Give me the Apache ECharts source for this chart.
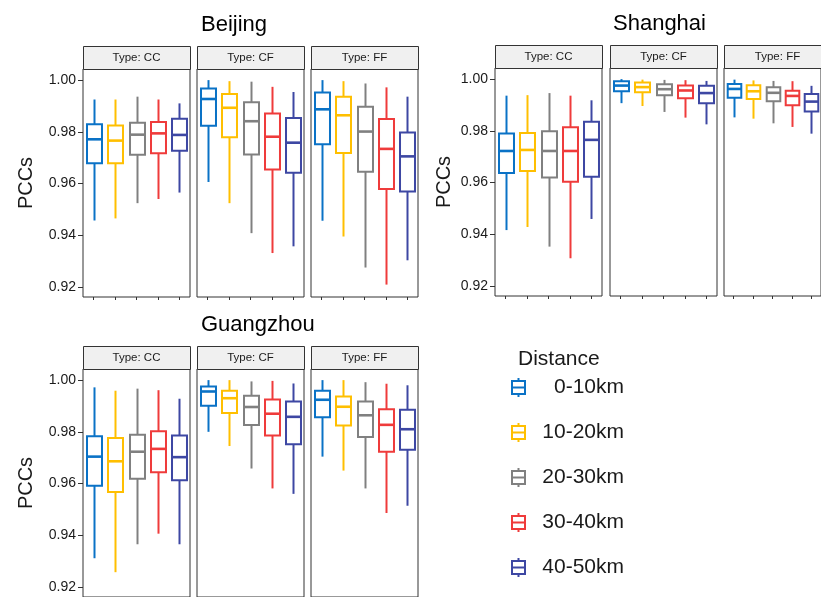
<!DOCTYPE html>
<html>
<head>
<meta charset="utf-8">
<script src="https://cdn.jsdelivr.net/npm/echarts@6/dist/echarts.min.js"></script>
<style>
  html, body { margin: 0; padding: 0; background: #fff; }
  #chart { width: 821px; height: 597px; }
</style>
</head>
<body>
<div id="chart"></div>
<script>
// Categories and labels
const distances = ['0-10km', '10-20km', '20-30km', '30-40km', '40-50km'];
const types = ['CC', 'CF', 'FF'];
const cities = ['Beijing', 'Shanghai', 'Guangzhou'];
const yTicks = [0.92, 0.94, 0.96, 0.98, 1.00];

// Box statistics per distance: [min, Q1, median, Q3, max]
const beijingCC = [
  [0.9457, 0.9678, 0.9771, 0.9829, 0.9925],
  [0.9465, 0.9678, 0.9766, 0.9824, 0.9925],
  [0.9524, 0.9711, 0.9789, 0.9835, 0.9936],
  [0.9540, 0.9717, 0.9794, 0.9838, 0.9925],
  [0.9565, 0.9727, 0.9788, 0.9851, 0.9910]
];
const beijingCF = [
  [0.9606, 0.9823, 0.9927, 0.9968, 1.0000],
  [0.9524, 0.9779, 0.9893, 0.9946, 0.9996],
  [0.9408, 0.9712, 0.9841, 0.9914, 0.9994],
  [0.9331, 0.9654, 0.9781, 0.9871, 0.9974],
  [0.9357, 0.9642, 0.9758, 0.9853, 0.9954]
];
const beijingFF = [
  [0.9456, 0.9752, 0.9887, 0.9952, 1.0000],
  [0.9395, 0.9718, 0.9864, 0.9936, 0.9996],
  [0.9275, 0.9646, 0.9801, 0.9897, 0.9987],
  [0.9209, 0.9579, 0.9734, 0.9850, 0.9972],
  [0.9303, 0.9569, 0.9705, 0.9797, 0.9936]
];
const shanghaiCC = [
  [0.9416, 0.9637, 0.9722, 0.9790, 0.9936],
  [0.9428, 0.9645, 0.9726, 0.9792, 0.9938],
  [0.9352, 0.9619, 0.9722, 0.9798, 0.9946],
  [0.9307, 0.9603, 0.9722, 0.9814, 0.9936],
  [0.9459, 0.9622, 0.9765, 0.9835, 0.9918]
];
const shanghaiCF = [
  [0.9907, 0.9953, 0.9975, 0.9992, 1.0000],
  [0.9896, 0.9949, 0.9969, 0.9987, 0.9998],
  [0.9873, 0.9938, 0.9961, 0.9980, 0.9997],
  [0.9851, 0.9926, 0.9956, 0.9975, 0.9996],
  [0.9825, 0.9907, 0.9946, 0.9974, 0.9993]
];
const shanghaiFF = [
  [0.9852, 0.9928, 0.9962, 0.9981, 0.9998],
  [0.9847, 0.9923, 0.9953, 0.9976, 0.9995],
  [0.9829, 0.9914, 0.9947, 0.9969, 0.9993],
  [0.9815, 0.9899, 0.9935, 0.9955, 0.9992],
  [0.9789, 0.9875, 0.9913, 0.9942, 0.9974]
];
const guangzhouCC = [
  [0.9311, 0.9591, 0.9704, 0.9783, 0.9972],
  [0.9257, 0.9567, 0.9686, 0.9776, 0.9959],
  [0.9365, 0.9618, 0.9723, 0.9789, 0.9967],
  [0.9406, 0.9644, 0.9734, 0.9802, 0.9961],
  [0.9365, 0.9613, 0.9702, 0.9786, 0.9928]
];
const guangzhouCF = [
  [0.9800, 0.9901, 0.9956, 0.9975, 1.0000],
  [0.9745, 0.9873, 0.9930, 0.9959, 1.0000],
  [0.9658, 0.9826, 0.9896, 0.9940, 0.9995],
  [0.9581, 0.9786, 0.9870, 0.9925, 0.9997],
  [0.9560, 0.9752, 0.9858, 0.9917, 0.9987]
];
const guangzhouFF = [
  [0.9704, 0.9856, 0.9924, 0.9959, 1.0000],
  [0.9650, 0.9824, 0.9897, 0.9937, 1.0000],
  [0.9581, 0.9780, 0.9864, 0.9917, 0.9992],
  [0.9486, 0.9723, 0.9827, 0.9887, 0.9986],
  [0.9514, 0.9731, 0.9810, 0.9885, 0.9980]
];

const palette = ['#0a72c6', '#ffbf00', '#808080', '#ef3b3b', '#3d47a3'];

const cityData = {
  Beijing: [beijingCC, beijingCF, beijingFF],
  Shanghai: [shanghaiCC, shanghaiCF, shanghaiFF],
  Guangzhou: [guangzhouCC, guangzhouCF, guangzhouFF]
};

// Panel placement for each city block
const layout = {
  Beijing:   { lefts: [83, 197, 311], top: 69,  titleLeft: 201, titleTop: 14,  nameGap: 47 },
  Shanghai:  { lefts: [495, 610, 724], top: 68, titleLeft: 613, titleTop: 13,  nameGap: 41 },
  Guangzhou: { lefts: [83, 197, 311], top: 369, titleLeft: 201, titleTop: 314, nameGap: 47 }
};
const PANEL_W = 107, PANEL_H = 228, STRIP_H = 23;
const Y_MIN = 0.9161, Y_MAX = 1.0043;
const FONT = 'Liberation Sans, Arial, Helvetica, sans-serif';
const TEXT = '#1a1a1a';
const BORDER = '#333333';

const grids = [], xAxes = [], yAxes = [], series = [], graphics = [], titles = [];

function boxRenderer(color) {
  return function (params, api) {
    const x = api.value(0);
    const pMin = api.coord([x, api.value(1)]);
    const pQ1 = api.coord([x, api.value(2)]);
    const pMed = api.coord([x, api.value(3)]);
    const pQ3 = api.coord([x, api.value(4)]);
    const pMax = api.coord([x, api.value(5)]);
    const bw = api.size([1, 0])[0] * 0.7;
    const cx = Math.round(pMin[0]) + 0.5;
    const line = { stroke: color, lineWidth: 2, lineCap: 'butt' };
    return {
      type: 'group',
      children: [
        { type: 'line', shape: { x1: cx, y1: pMax[1], x2: cx, y2: pQ3[1] }, style: line },
        { type: 'line', shape: { x1: cx, y1: pQ1[1], x2: cx, y2: pMin[1] }, style: line },
        { type: 'rect', shape: { x: cx - bw / 2, y: pQ3[1], width: bw, height: pQ1[1] - pQ3[1] },
          style: { fill: '#ffffff', stroke: color, lineWidth: 2 } },
        { type: 'line', shape: { x1: cx - bw / 2, y1: pMed[1], x2: cx + bw / 2, y2: pMed[1] },
          style: { stroke: color, lineWidth: 2.6 } }
      ]
    };
  };
}

cities.forEach(function (city) {
  const L = layout[city];
  titles.push({
    text: city, left: L.titleLeft, top: L.titleTop, padding: 0,
    textStyle: { fontFamily: FONT, fontSize: 22, fontWeight: 'normal', color: '#000' }
  });
  types.forEach(function (type, t) {
    const gi = grids.length;
    grids.push({
      left: L.lefts[t], top: L.top, width: PANEL_W, height: PANEL_H,
      show: true, borderColor: BORDER, borderWidth: 1, backgroundColor: '#fff',
      containLabel: false
    });
    xAxes.push({
      type: 'category', gridIndex: gi, data: distances,
      axisLine: { show: false },
      axisTick: { show: true, alignWithLabel: true, interval: 0, length: 3, lineStyle: { color: BORDER } },
      axisLabel: { show: false, interval: 0 },
      splitLine: { show: false }
    });
    const first = t === 0;
    yAxes.push({
      type: 'value', gridIndex: gi, min: Y_MIN, max: Y_MAX, show: first,
      name: first ? 'PCCs' : '', nameLocation: 'middle', nameRotate: 90, nameGap: L.nameGap,
      nameTextStyle: { fontFamily: FONT, fontSize: 20, color: TEXT },
      axisLine: { show: false },
      splitLine: { show: false },
      axisTick: { show: first, customValues: yTicks, length: 5, lineStyle: { color: BORDER } },
      axisLabel: {
        show: first, customValues: yTicks, margin: 7,
        fontFamily: FONT, fontSize: 14, color: TEXT,
        formatter: function (v) { return v.toFixed(2); }
      }
    });
    // facet strip header
    graphics.push({
      type: 'group', silent: true,
      children: [
        { type: 'rect', shape: { x: L.lefts[t] + 0.5, y: L.top - STRIP_H + 0.5, width: PANEL_W, height: STRIP_H },
          style: { fill: '#f0f0f0', stroke: BORDER, lineWidth: 1 } },
        { type: 'text', x: L.lefts[t] + PANEL_W / 2, y: L.top - STRIP_H / 2 + 0.5,
          style: { text: 'Type: ' + type, fill: TEXT, font: '11.5px ' + FONT, align: 'center', verticalAlign: 'middle' } }
      ]
    });
    const stats = cityData[city][t];
    distances.forEach(function (d, i) {
      series.push({
        type: 'custom', name: d, xAxisIndex: gi, yAxisIndex: gi,
        silent: true, clip: false,
        itemStyle: { color: palette[i] },
        data: [[i].concat(stats[i])],
        encode: { x: 0, y: [1, 2, 3, 4, 5] },
        renderItem: boxRenderer(palette[i])
      });
    });
  });
});

titles.push({
  text: 'Distance', left: 518, top: 349, padding: 0,
  textStyle: { fontFamily: FONT, fontSize: 21, fontWeight: 'normal', color: TEXT }
});

// boxplot glyph used as legend key
const legendIcon = 'path://M6.5,0L6.5,3M0,3L13,3L13,16L0,16ZM0,9.5L13,9.5M6.5,16L6.5,19';

const chart = echarts.init(document.getElementById('chart'), null, { renderer: 'canvas' });
chart.setOption({
  animation: false,
  backgroundColor: '#ffffff',
  title: titles,
  grid: grids,
  xAxis: xAxes,
  yAxis: yAxes,
  series: series,
  graphic: graphics,
  legend: {
    orient: 'vertical', left: 511, top: 377, padding: 0,
    itemWidth: 13, itemHeight: 19, itemGap: 24,
    symbolKeepAspect: false,
    selectedMode: false,
    data: distances.map(function (d, i) {
      return { name: d, icon: legendIcon, itemStyle: { color: '#ffffff', borderColor: palette[i], borderWidth: 2 } };
    }),
    formatter: function (name) { return '{r|' + name + '}'; },
    textStyle: {
      fontFamily: FONT, fontSize: 21, color: TEXT,
      rich: { r: { width: 94, align: 'right', fontFamily: FONT, fontSize: 21, color: TEXT } }
    }
  }
});
</script>
</body>
</html>
